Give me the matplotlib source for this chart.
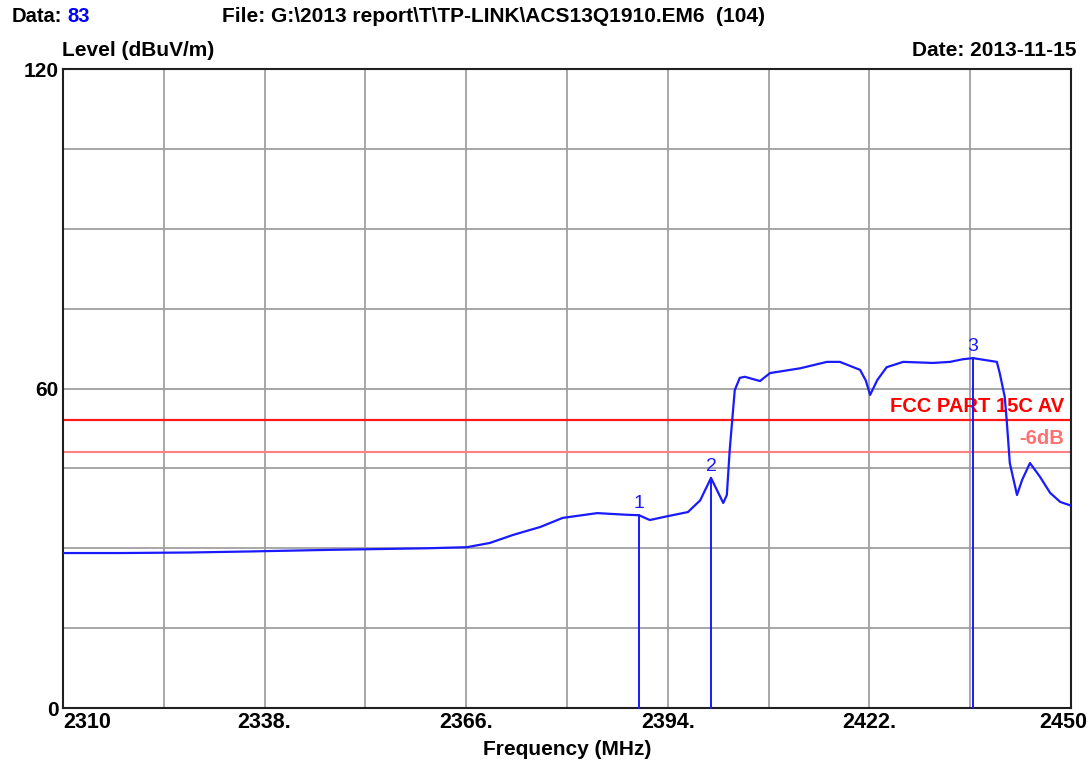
import matplotlib
matplotlib.use("Agg")
import matplotlib.pyplot as plt
import matplotlib.transforms as mtransforms

# Spectrum trace (frequency in MHz, level in dBuV/m)
freq = [2310.0, 2317.9, 2327.6, 2336.0, 2347.1, 2360.7, 2366.1, 2369.3, 2372.5,
        2376.3, 2379.4, 2384.2, 2388.1, 2390.0, 2391.5, 2393.9, 2396.8, 2398.5,
        2400.0, 2400.8, 2401.7, 2402.2, 2402.6, 2403.3, 2404.0, 2404.7, 2406.8,
        2408.2, 2412.4, 2416.1, 2417.9, 2420.7, 2421.5, 2422.1, 2423.1, 2424.4,
        2426.7, 2430.8, 2433.2, 2435.0, 2436.4, 2439.7, 2440.1, 2440.8, 2441.1,
        2441.5, 2442.5, 2443.2, 2444.3, 2445.7, 2447.1, 2448.5, 2450.0]
level = [29.1, 29.1, 29.2, 29.4, 29.7, 30.0, 30.2, 31.0, 32.5,
         34.0, 35.7, 36.6, 36.3, 36.2, 35.3, 36.0, 36.8, 39.0,
         43.2, 41.0, 38.5, 40.0, 48.5, 59.7, 62.0, 62.2, 61.4,
         62.9, 63.8, 65.0, 65.0, 63.5, 61.5, 58.8, 61.6, 64.0,
         65.0, 64.8, 65.0, 65.5, 65.7, 65.0, 62.9, 58.4, 53.5,
         46.0, 40.0, 42.8, 46.0, 43.4, 40.4, 38.7, 38.0]

# Markers
marker_ids = ["1", "2", "3"]
marker_freq = [2390.0, 2400.0, 2436.4]
marker_level = [36.2, 43.2, 65.7]

# Limit lines
limit_av = 54.0
limit_margin = 48.0
limit_labels = ["FCC PART 15C AV", "-6dB"]

# Axis ticks
x_ticks = [2310, 2324, 2338, 2352, 2366, 2380, 2394, 2408, 2422, 2436, 2450]
x_tick_labels = ["2310", "", "2338.", "", "2366.", "", "2394.", "", "2422.", "", "2450"]
y_ticks = [0, 15, 30, 45, 60, 75, 90, 105, 120]
y_tick_labels = ["0", "", "", "", "60", "", "", "", "120"]

BLUE = "#1a1aff"
FONT = "Liberation Sans"

fig = plt.figure(figsize=(10.89, 7.64), dpi=100)
ax = fig.add_axes([63 / 1089, 56 / 764, 1008 / 1089, 639 / 764])

ax.set_xlim(2310, 2450)
ax.set_ylim(0, 120)
ax.set_xticks(x_ticks)
ax.set_yticks(y_ticks)
ax.set_xticklabels(x_tick_labels, fontname=FONT, fontweight="bold", fontsize=15.5)
ax.set_yticklabels(y_tick_labels, fontname=FONT, fontweight="bold", fontsize=15)
ax.tick_params(length=0, pad=3)
xt = ax.get_xticklabels()
xt[0].set_ha("left")
xt[-1].set_ha("center")
xt[-1].set_transform(xt[-1].get_transform() +
                     mtransforms.ScaledTranslation(-8 / 100, 0, fig.dpi_scale_trans))
ax.grid(True, color="#a0a0a0", lw=1.3)
ax.set_axisbelow(True)
for s in ax.spines.values():
    s.set_color("#202020")
    s.set_linewidth(1.5)

# limit lines
ax.axhline(limit_av, color="#ff1a1a", lw=1.6, zorder=2)
ax.axhline(limit_margin, color="#ff8080", lw=1.5, zorder=2)
ax.text(2449, limit_av + 2.6, limit_labels[0], color="#ff0000", ha="right", va="center",
        fontname=FONT, fontweight="bold", fontsize=14.5)
ax.text(2449, limit_margin + 2.6, limit_labels[1], color="#ff7070", ha="right", va="center",
        fontname=FONT, fontweight="bold", fontsize=14.5)

# trace
ax.plot(freq, level, color=BLUE, lw=1.6, zorder=3)

# markers
for mid, mf, ml in zip(marker_ids, marker_freq, marker_level):
    ax.plot([mf, mf], [0, ml], color=BLUE, lw=1.4, zorder=3, clip_on=False)
    ax.annotate(mid, (mf, ml), xytext=(0, 2), textcoords="offset points",
                ha="center", va="bottom", color=BLUE, fontname=FONT, fontsize=14)

ax.set_xlabel("Frequency (MHz)", fontname=FONT, fontweight="bold", fontsize=15, labelpad=5)

# header texts
fig.text(12 / 1089, 1 - 16 / 764, "Data:", fontname=FONT, fontweight="bold", fontsize=14.5,
         va="center", ha="left")
fig.text(67 / 1089, 1 - 16 / 764, "83", fontname=FONT, fontweight="bold", fontsize=14.5,
         va="center", ha="left", color="#0000ff")
fig.text(222 / 1089, 1 - 16 / 764, "File: G:\\2013 report\\T\\TP-LINK\\ACS13Q1910.EM6  (104)",
         fontname=FONT, fontweight="bold", fontsize=15, va="center", ha="left")
fig.text(62 / 1089, 1 - 50 / 764, "Level (dBuV/m)", fontname=FONT, fontweight="bold",
         fontsize=15, va="center", ha="left")
fig.text(1077 / 1089, 1 - 50 / 764, "Date: 2013-11-15", fontname=FONT, fontweight="bold",
         fontsize=15, va="center", ha="right")

fig.savefig("out.png", dpi=100, facecolor="white")
